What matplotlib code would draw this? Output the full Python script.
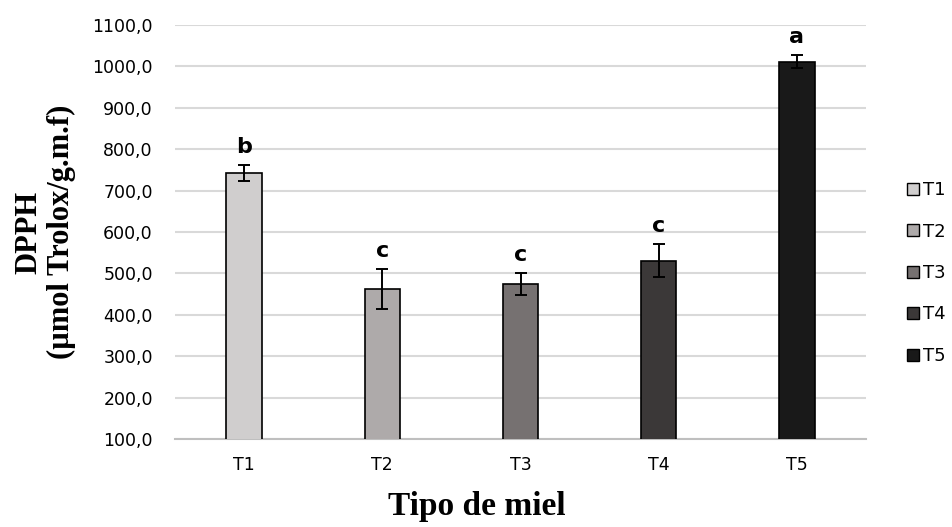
import matplotlib
matplotlib.use("Agg")
import matplotlib.pyplot as plt
from matplotlib.patches import Patch
from matplotlib.ticker import FuncFormatter, MultipleLocator

# Antioxidant capacity (DPPH) per honey type
categories = ["T1", "T2", "T3", "T4", "T5"]
dpph_mean = [743, 462, 474, 531, 1011]
dpph_sd = [19, 48, 27, 40, 16]
groups = ["b", "c", "c", "c", "a"]
bar_colors = ["#d0cece", "#aeaaaa", "#767171", "#3b3838", "#191919"]

fig = plt.figure(figsize=(9.53, 5.27), dpi=100)
ax = fig.add_axes([175 / 953, 1 - 439 / 527, (866 - 175) / 953, (439 - 25) / 527])

x = list(range(len(categories)))
ax.bar(x, dpph_mean, width=0.255, color=bar_colors, edgecolor="black",
       linewidth=1.2, zorder=3)
ax.errorbar(x, dpph_mean, yerr=dpph_sd, fmt="none", ecolor="black",
            elinewidth=1.4, capsize=4.5, capthick=1.4, zorder=4)

for xi, m, s, g in zip(x, dpph_mean, dpph_sd, groups):
    ax.annotate(g, (xi, m + s), xytext=(0, 6), textcoords="offset points",
                ha="center", va="bottom", fontsize=16, fontweight="bold",
                family="DejaVu Sans", zorder=5)

ax.set_xlim(-0.5, len(categories) - 0.5)
ax.set_ylim(100, 1100)
ax.yaxis.set_major_locator(MultipleLocator(100))
ax.yaxis.set_major_formatter(FuncFormatter(lambda v, p: f"{v:.1f}".replace(".", ",")))
ax.set_xticks(x)
ax.set_xticklabels(categories)

ax.grid(axis="y", color="#d9d9d9", linewidth=1.5, zorder=0)
ax.set_axisbelow(True)
for side in ["top", "right", "left"]:
    ax.spines[side].set_visible(False)
ax.spines["bottom"].set_color("#bfbfbf")
ax.spines["bottom"].set_linewidth(1.5)
ax.spines["bottom"].set_zorder(2)

ax.tick_params(axis="both", length=0, labelsize=12.5, labelcolor="#000000")
ax.tick_params(axis="y", pad=16)
ax.tick_params(axis="x", pad=12)
for lbl in ax.get_xticklabels() + ax.get_yticklabels():
    lbl.set_family("DejaVu Sans")

fig.text(45 / 953, 1 - 232 / 527, "DPPH\n(µmol Trolox/g.m.f)", rotation=90,
         ha="center", va="center", fontsize=22, fontweight="bold",
         family="Liberation Serif", linespacing=1.15)
fig.text(0.5, 1 - 506 / 527, "Tipo de miel", ha="center", va="center",
         fontsize=24, fontweight="bold", family="Liberation Serif")

handles = [Patch(facecolor=c, edgecolor="black", linewidth=1.0) for c in bar_colors]
fig.legend(handles, categories, loc="center left",
           bbox_to_anchor=(907 / 953, 1 - 273 / 527), frameon=False,
           prop={"family": "DejaVu Sans", "size": 13},
           handlelength=0.65, handleheight=0.65, handletextpad=0.25,
           labelspacing=1.3, borderpad=0, borderaxespad=0)

fig.savefig("out.png", dpi=100)
